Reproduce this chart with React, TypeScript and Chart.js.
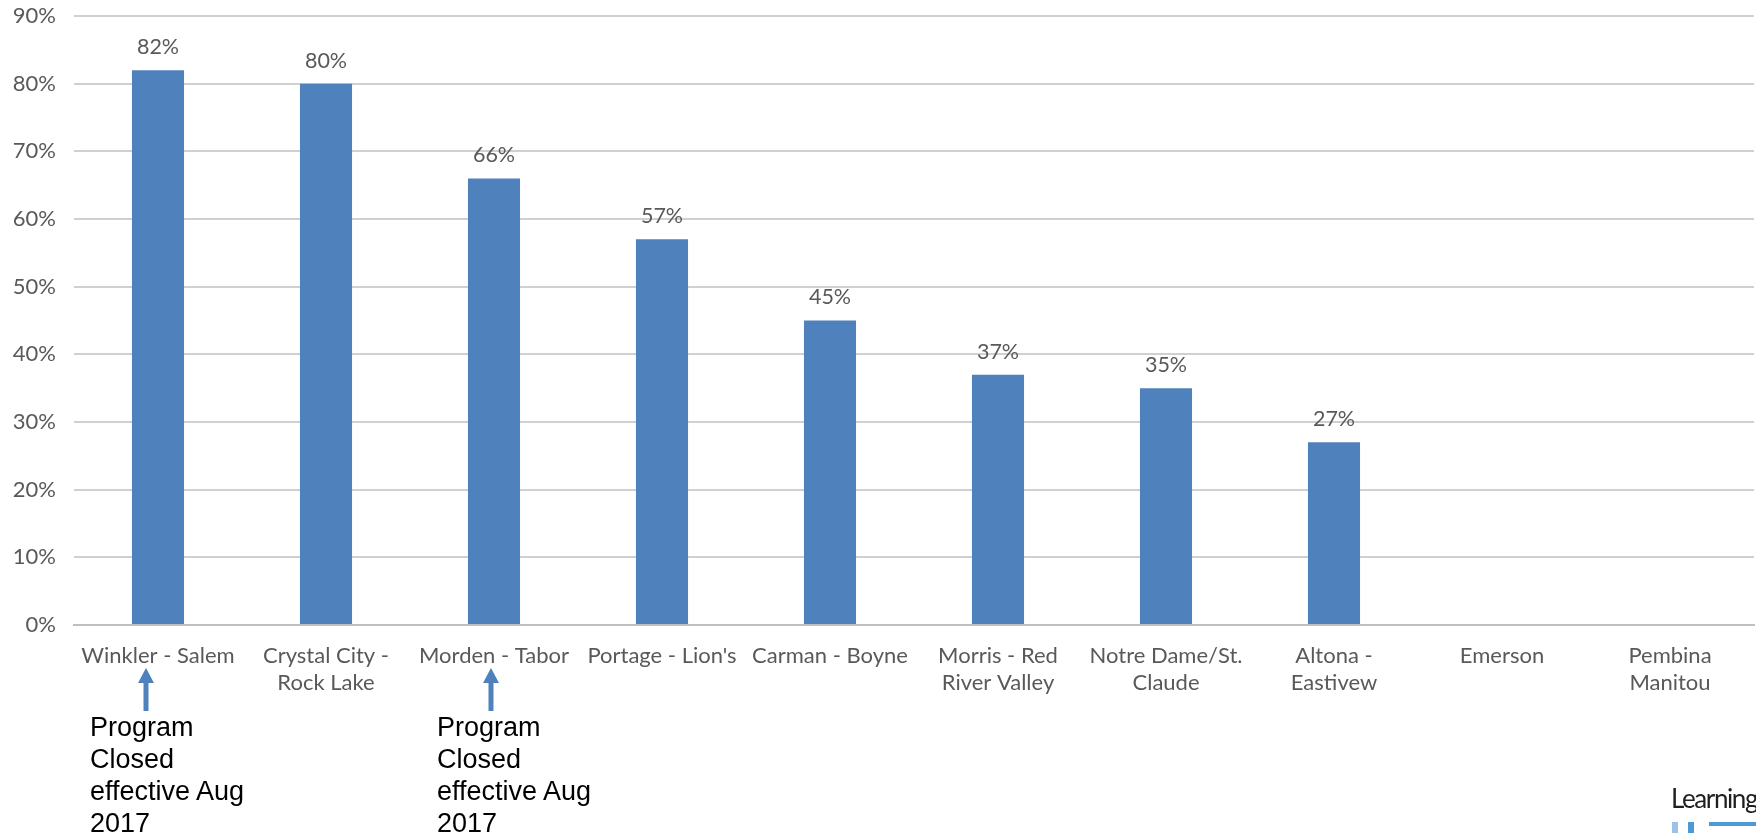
import React, { useEffect, useRef } from "react";
import { Chart, registerables } from "chart.js";

Chart.register(...registerables);

const categories: (string | string[])[] = [
  "Winkler - Salem",
  ["Crystal City -", "Rock Lake"],
  "Morden - Tabor",
  "Portage - Lion's",
  "Carman - Boyne",
  ["Morris - Red", "River Valley"],
  ["Notre Dame/St.", "Claude"],
  ["Altona -", "Eastivew"],
  "Emerson",
  ["Pembina", "Manitou"],
];

const values: (number | null)[] = [82, 80, 66, 57, 45, 37, 35, 27, null, null];

const yTicks: number[] = [0, 10, 20, 30, 40, 50, 60, 70, 80, 90];

const annotatedCategories: number[] = [0, 2];
const annotationText: string[] = ["Program", "Closed", "effective Aug", "2017"];

const W = 1756;
const H = 833;
const PLOT_LEFT = 74;
const PLOT_BOTTOM = 625;

export default function App() {
  const canvasRef = useRef<HTMLCanvasElement | null>(null);

  useEffect(() => {
    document.body.style.margin = "0";
    const canvas = canvasRef.current;
    if (!canvas) return;

    const valueLabels = {
      id: "valueLabels",
      afterDatasetsDraw(chart: any) {
        const ctx = chart.ctx;
        const meta = chart.getDatasetMeta(0);
        ctx.save();
        ctx.font = "21.5px Lato";
        ctx.fillStyle = "#595959";
        ctx.textAlign = "center";
        ctx.textBaseline = "middle";
        meta.data.forEach((bar: any, i: number) => {
          const v = values[i];
          if (v === null || v === undefined) return;
          ctx.fillText(v + "%", bar.x, bar.y - 23);
        });
        ctx.restore();
      },
    };

    const arrows = {
      id: "arrows",
      afterDraw(chart: any) {
        const ctx = chart.ctx;
        const xs = chart.scales.x;
        const bottom = chart.chartArea.bottom;
        const offsets = [-12, -3];
        ctx.save();
        ctx.fillStyle = "#4F81BD";
        annotatedCategories.forEach((c, k) => {
          const x = xs.getPixelForValue(c) + offsets[k];
          const tip = bottom + 43;
          const headEnd = tip + 15;
          const end = bottom + 86;
          ctx.beginPath();
          ctx.moveTo(x, tip);
          ctx.lineTo(x - 8, headEnd);
          ctx.lineTo(x + 8, headEnd);
          ctx.closePath();
          ctx.fill();
          ctx.fillRect(x - 2.5, headEnd - 1, 5, end - headEnd + 1);
        });
        ctx.restore();
      },
    };

    const chart = new Chart(canvas, {
      type: "bar",
      data: {
        labels: categories,
        datasets: [
          {
            data: values,
            backgroundColor: "#4F81BD",
            borderWidth: 0,
            categoryPercentage: 1,
            barPercentage: 0.31,
          },
        ],
      },
      options: {
        responsive: false,
        animation: false,
        layout: { padding: { top: 16, right: 2, left: 0, bottom: 0 } },
        plugins: {
          legend: { display: false },
          tooltip: { enabled: false },
        },
        scales: {
          x: {
            grid: { display: false, drawTicks: false },
            border: { display: true, color: "#BFBFBF", width: 2 },
            ticks: {
              color: "#595959",
              font: { family: "Lato", size: 22, lineHeight: 1.2 },
              padding: 18,
              maxRotation: 0,
              autoSkip: false,
            },
            afterFit(scale: any) {
              scale.height = H - PLOT_BOTTOM;
              scale.paddingLeft = 0;
              scale.paddingRight = 0;
            },
          },
          y: {
            min: 0,
            max: 90,
            afterBuildTicks(scale: any) {
              scale.ticks = yTicks.map((v) => ({ value: v }));
            },
            grid: { color: "#D0D0D0", lineWidth: 2, drawTicks: false },
            border: { display: false },
            ticks: {
              color: "#595959",
              font: { family: "Lato", size: 22 },
              padding: 18,
              callback: (v: any) => v + "%",
            },
            afterFit(scale: any) {
              scale.width = PLOT_LEFT;
              scale.paddingTop = 0;
              scale.paddingBottom = 0;
            },
          },
        },
      },
      plugins: [valueLabels, arrows],
    });

    return () => chart.destroy();
  }, []);

  const textStyle = (left: number): React.CSSProperties => ({
    position: "absolute",
    left,
    top: 711,
    fontFamily: "'Liberation Sans', Arial, sans-serif",
    fontSize: 27,
    lineHeight: "32px",
    color: "#000",
    whiteSpace: "nowrap",
  });

  return (
    <div
      style={{
        position: "fixed",
        left: 0,
        top: 0,
        width: W,
        height: H,
        overflow: "hidden",
        background: "#fff",
      }}
    >
      <canvas ref={canvasRef} width={W} height={H} style={{ width: W, height: H, display: "block" }} />
      <div style={textStyle(90)}>
        {annotationText.map((t, i) => (
          <div key={i}>{t}</div>
        ))}
      </div>
      <div style={textStyle(437)}>
        {annotationText.map((t, i) => (
          <div key={i}>{t}</div>
        ))}
      </div>
      <div
        style={{
          position: "absolute",
          left: 1671,
          top: 782,
          fontFamily: "Lato, sans-serif",
          fontSize: 26,
          lineHeight: "32px",
          color: "#1f1f1f",
          whiteSpace: "nowrap",
          letterSpacing: -1.4,
        }}
      >
        Learning
      </div>
      <div style={{ position: "absolute", left: 1672, top: 822, width: 6, height: 12, background: "#9CC3E6" }} />
      <div style={{ position: "absolute", left: 1688, top: 822, width: 6, height: 12, background: "#4A9AD4" }} />
      <div style={{ position: "absolute", left: 1709, top: 822, width: 60, height: 4, background: "#4A9AD4" }} />
    </div>
  );
}
